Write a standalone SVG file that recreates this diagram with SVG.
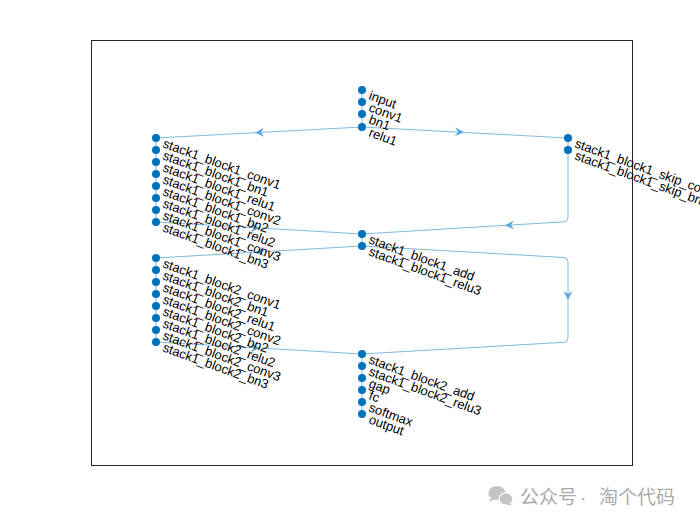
<svg xmlns="http://www.w3.org/2000/svg" width="700" height="525" viewBox="0 0 700 525">
<defs>
<style>
.e{fill:none;stroke:#80B9DE;stroke-width:1}
.a{fill:#5FA7D8}
.n{fill:#0072BD}
.t{font-family:"Liberation Sans",Arial,sans-serif;font-size:13px;fill:#000}
.w{font-family:"Liberation Sans","Noto Sans CJK SC",sans-serif;font-size:19px;fill:#ABABAB}
</style>
<path id="ah" d="M0,0 L-9,-4.5 L-6,0 L-9,4.5 Z"/>
</defs>
<rect x="0" y="0" width="700" height="525" fill="#fff"/>
<rect x="91.5" y="40.5" width="541" height="425" fill="#fff" stroke="#262626" stroke-width="1"/>
<g id="connectors">
<path class="e" d="M362,90 L362,127"/>
<path class="e" d="M362,127 L156,138"/>
<path class="e" d="M362,127 L568,138"/>
<path class="e" d="M156,138 L156,222"/>
<path class="e" d="M156,222 L362,234"/>
<path class="e" d="M568,138 L568,150"/>
<path class="e" d="M568,150 L568,218 Q568,221.5 564,221.8 L362,234"/>
<path class="e" d="M362,234 L362,246"/>
<path class="e" d="M362,246 L156,258"/>
<path class="e" d="M156,258 L156,342"/>
<path class="e" d="M156,342 L362,354"/>
<path class="e" d="M362,246 L564,257.5 Q568,258 568,262 L568,338 Q568,342 564,342.3 L362,354"/>
<path class="e" d="M362,354 L362,414"/>
<use href="#ah" class="a" transform="translate(255,132.7) rotate(176.9)"/>
<use href="#ah" class="a" transform="translate(464,132.3) rotate(3.06)"/>
<use href="#ah" class="a" transform="translate(260,228.1) rotate(3.33)"/>
<use href="#ah" class="a" transform="translate(505,225.5) rotate(176.6)"/>
<use href="#ah" class="a" transform="translate(255,252.2) rotate(176.7)"/>
<use href="#ah" class="a" transform="translate(260,348.1) rotate(3.33)"/>
<use href="#ah" class="a" transform="translate(568,300) rotate(90)"/>
</g>
<g id="n_input"><circle class="n" cx="362" cy="90" r="4"/><text class="t" transform="translate(368,99) rotate(20)">input</text></g>
<g id="n_conv1"><circle class="n" cx="362" cy="102" r="4"/><text class="t" transform="translate(368,111) rotate(20)">conv1</text></g>
<g id="n_bn1"><circle class="n" cx="362" cy="114" r="4"/><text class="t" transform="translate(368,123) rotate(20)">bn1</text></g>
<g id="n_relu1"><circle class="n" cx="362" cy="127" r="4"/><text class="t" transform="translate(368,136) rotate(20)">relu1</text></g>
<g id="n_b1_conv1"><circle class="n" cx="156" cy="138" r="4"/><text class="t" transform="translate(162,147) rotate(20)">stack1_block1_conv1</text></g>
<g id="n_b1_bn1"><circle class="n" cx="156" cy="150" r="4"/><text class="t" transform="translate(162,159) rotate(20)">stack1_block1_bn1</text></g>
<g id="n_b1_relu1"><circle class="n" cx="156" cy="162" r="4"/><text class="t" transform="translate(162,171) rotate(20)">stack1_block1_relu1</text></g>
<g id="n_b1_conv2"><circle class="n" cx="156" cy="174" r="4"/><text class="t" transform="translate(162,183) rotate(20)">stack1_block1_conv2</text></g>
<g id="n_b1_bn2"><circle class="n" cx="156" cy="186" r="4"/><text class="t" transform="translate(162,195) rotate(20)">stack1_block1_bn2</text></g>
<g id="n_b1_relu2"><circle class="n" cx="156" cy="198" r="4"/><text class="t" transform="translate(162,207) rotate(20)">stack1_block1_relu2</text></g>
<g id="n_b1_conv3"><circle class="n" cx="156" cy="210" r="4"/><text class="t" transform="translate(162,219) rotate(20)">stack1_block1_conv3</text></g>
<g id="n_b1_bn3"><circle class="n" cx="156" cy="222" r="4"/><text class="t" transform="translate(162,231) rotate(20)">stack1_block1_bn3</text></g>
<g id="n_b1_skip_conv"><circle class="n" cx="568" cy="138" r="4"/><text class="t" transform="translate(574,147) rotate(20)">stack1_block1_skip_conv</text></g>
<g id="n_b1_skip_bn"><circle class="n" cx="568" cy="150" r="4"/><text class="t" transform="translate(574,159) rotate(20)">stack1_block1_skip_bn</text></g>
<g id="n_b1_add"><circle class="n" cx="362" cy="234" r="4"/><text class="t" transform="translate(368,243) rotate(20)">stack1_block1_add</text></g>
<g id="n_b1_relu3"><circle class="n" cx="362" cy="246" r="4"/><text class="t" transform="translate(368,255) rotate(20)">stack1_block1_relu3</text></g>
<g id="n_b2_conv1"><circle class="n" cx="156" cy="258" r="4"/><text class="t" transform="translate(162,267) rotate(20)">stack1_block2_conv1</text></g>
<g id="n_b2_bn1"><circle class="n" cx="156" cy="270" r="4"/><text class="t" transform="translate(162,279) rotate(20)">stack1_block2_bn1</text></g>
<g id="n_b2_relu1"><circle class="n" cx="156" cy="282" r="4"/><text class="t" transform="translate(162,291) rotate(20)">stack1_block2_relu1</text></g>
<g id="n_b2_conv2"><circle class="n" cx="156" cy="294" r="4"/><text class="t" transform="translate(162,303) rotate(20)">stack1_block2_conv2</text></g>
<g id="n_b2_bn2"><circle class="n" cx="156" cy="306" r="4"/><text class="t" transform="translate(162,315) rotate(20)">stack1_block2_bn2</text></g>
<g id="n_b2_relu2"><circle class="n" cx="156" cy="318" r="4"/><text class="t" transform="translate(162,327) rotate(20)">stack1_block2_relu2</text></g>
<g id="n_b2_conv3"><circle class="n" cx="156" cy="330" r="4"/><text class="t" transform="translate(162,339) rotate(20)">stack1_block2_conv3</text></g>
<g id="n_b2_bn3"><circle class="n" cx="156" cy="342" r="4"/><text class="t" transform="translate(162,351) rotate(20)">stack1_block2_bn3</text></g>
<g id="n_b2_add"><circle class="n" cx="362" cy="354" r="4"/><text class="t" transform="translate(368,363) rotate(20)">stack1_block2_add</text></g>
<g id="n_b2_relu3"><circle class="n" cx="362" cy="366" r="4"/><text class="t" transform="translate(368,375) rotate(20)">stack1_block2_relu3</text></g>
<g id="n_gap"><circle class="n" cx="362" cy="378" r="4"/><text class="t" transform="translate(368,387) rotate(20)">gap</text></g>
<g id="n_fc"><circle class="n" cx="362" cy="390" r="4"/><text class="t" transform="translate(368,399) rotate(20)">fc</text></g>
<g id="n_softmax"><circle class="n" cx="362" cy="402" r="4"/><text class="t" transform="translate(368,411) rotate(20)">softmax</text></g>
<g id="n_output"><circle class="n" cx="362" cy="414" r="4"/><text class="t" transform="translate(368,423) rotate(20)">output</text></g>
<g id="watermark">
<ellipse cx="497" cy="493" rx="8.5" ry="7" fill="#C4C4C4"/>
<path d="M491,498 L489,502 L495,499 Z" fill="#C4C4C4"/>
<ellipse cx="506" cy="499" rx="7" ry="6" fill="#C4C4C4" stroke="#fff" stroke-width="1.2"/>
<path d="M510,503 L512,506 L507,504.5 Z" fill="#C4C4C4"/>
<text class="w" x="520" y="504">公众号</text>
<text class="w" x="580" y="504">·</text>
<text class="w" x="599" y="504">淘个代码</text>
</g>
</svg>
